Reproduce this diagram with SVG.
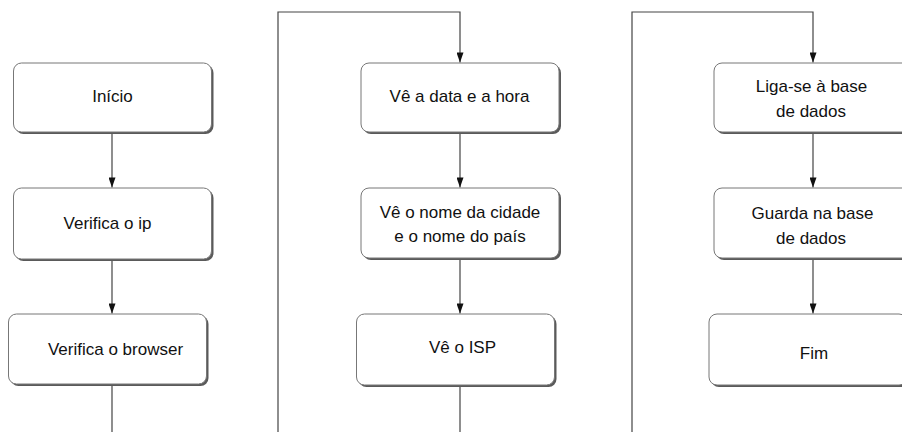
<svg xmlns="http://www.w3.org/2000/svg" width="902" height="432" viewBox="0 0 902 432">
<defs>
<style>
.box rect.bg{fill:#5a5a5a}
.box rect.fg{fill:#fff;stroke:#777;stroke-width:1}
.box text{font-family:"Liberation Sans",Arial,sans-serif;font-size:17px;fill:#111;text-anchor:middle}
.conn path{fill:none;stroke:#444;stroke-width:1.2}
</style>
<marker id="arr" markerUnits="userSpaceOnUse" markerWidth="11" markerHeight="7" refX="10" refY="3.5" orient="auto" viewBox="0 0 10 7">
<path d="M0,0 L10,3.5 L0,7 Z" fill="#111"/>
</marker>
</defs>
<rect width="902" height="432" fill="#fff"/>
<g class="conn">
<path d="M112,132 V187.5" marker-end="url(#arr)"/>
<path d="M112,260 V313.5" marker-end="url(#arr)"/>
<path d="M112,385 V432"/>
<path d="M278,432 V12 H460 V62.5" marker-end="url(#arr)"/>
<path d="M460,133 V187.5" marker-end="url(#arr)"/>
<path d="M460,259 V313.5" marker-end="url(#arr)"/>
<path d="M460,386 V432"/>
<path d="M632,432 V12 H813 V62.5" marker-end="url(#arr)"/>
<path d="M813,133 V187.5" marker-end="url(#arr)"/>
<path d="M813,259 V313.5" marker-end="url(#arr)"/>
</g>
<g id="n1" class="box">
<rect class="bg" x="15.5" y="65" width="198" height="69" rx="8"/>
<rect class="fg" x="13.5" y="63" width="198" height="69" rx="8"/>
<text x="112.5" y="102">Início</text>
</g>
<g id="n2" class="box">
<rect class="bg" x="15.5" y="190" width="198" height="71" rx="8"/>
<rect class="fg" x="13.5" y="188" width="198" height="71" rx="8"/>
<text x="107.5" y="229">Verifica o ip</text>
</g>
<g id="n3" class="box">
<rect class="bg" x="10.5" y="316" width="198" height="70" rx="8"/>
<rect class="fg" x="8.5" y="314" width="198" height="70" rx="8"/>
<text x="115.5" y="355">Verifica o browser</text>
</g>
<g id="n4" class="box">
<rect class="bg" x="363" y="65" width="198" height="69" rx="8"/>
<rect class="fg" x="361" y="63" width="198" height="69" rx="8"/>
<text x="459.5" y="102">Vê a data e a hora</text>
</g>
<g id="n5" class="box">
<rect class="bg" x="363" y="190" width="198" height="70" rx="8"/>
<rect class="fg" x="361" y="188" width="198" height="70" rx="8"/>
<text x="460" y="217.5">Vê o nome da cidade</text>
<text x="460" y="241.5">e o nome do país</text>
</g>
<g id="n6" class="box">
<rect class="bg" x="358.5" y="316" width="198" height="71" rx="8"/>
<rect class="fg" x="356.5" y="314" width="198" height="71" rx="8"/>
<text x="462.5" y="352.5">Vê o ISP</text>
</g>
<g id="n7" class="box">
<rect class="bg" x="716" y="65" width="198" height="69" rx="8"/>
<rect class="fg" x="714" y="63" width="198" height="69" rx="8"/>
<text x="811.5" y="91.5">Liga-se à base</text>
<text x="811" y="116.5">de dados</text>
</g>
<g id="n8" class="box">
<rect class="bg" x="716" y="190" width="198" height="70" rx="8"/>
<rect class="fg" x="714" y="188" width="198" height="70" rx="8"/>
<text x="812.5" y="219">Guarda na base</text>
<text x="811" y="243.5">de dados</text>
</g>
<g id="n9" class="box">
<rect class="bg" x="711" y="316" width="198" height="71" rx="8"/>
<rect class="fg" x="709" y="314" width="198" height="71" rx="8"/>
<text x="814" y="359">Fim</text>
</g>
</svg>
